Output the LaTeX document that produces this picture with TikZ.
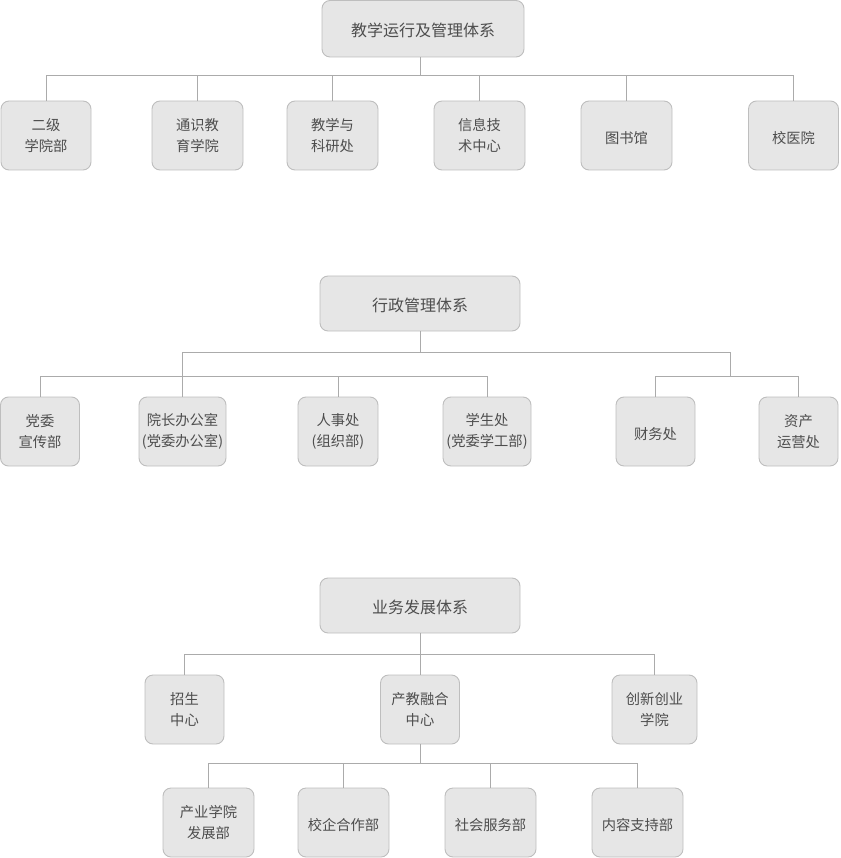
\documentclass[tikz,border=0pt]{standalone}
\usepackage{fontspec}
\setmainfont{Noto Sans CJK SC}
\definecolor{boxfill}{HTML}{E6E6E6}
\definecolor{boxline}{HTML}{BEBEBE}
\definecolor{txtcol}{HTML}{4D4D4D}
\definecolor{wirecol}{HTML}{ABABAB}
\tikzset{
  box/.style={draw=boxline, fill=boxfill, rounded corners=8pt, line width=0.9pt,
    text=txtcol, align=center, inner sep=0pt, minimum height=69pt,
    font=\fontsize{14.3}{20.5}\selectfont,
    execute at begin node={\rule{0pt}{17.5pt}}},
  rootbox/.style={box, minimum height=55pt, font=\fontsize{16}{20}\selectfont,
    execute at begin node={}},
  wire/.style={draw=wirecol, line width=1pt},
}
\begin{document}
\begin{tikzpicture}[x=1pt,y=-1pt]
\useasboundingbox (0,0) rectangle (840,858);
% ---------- top ----------
\node[rootbox, minimum width=202pt, minimum height=56.5pt] (t0) at (423,28.75) {教学运行及管理体系};
\node[box, minimum width=90pt] (t1) at (46,135.5) {二级\\学院部};
\node[box, minimum width=91pt] (t2) at (197.5,135.5) {通识教\\育学院};
\node[box, minimum width=91pt] (t3) at (332.5,135.5) {教学与\\科研处};
\node[box, minimum width=91pt] (t4) at (479.5,135.5) {信息技\\术中心};
\node[box, minimum width=91pt] (t5) at (626.5,135.5) {图书馆};
\node[box, minimum width=90pt] (t6) at (793.5,135.5) {校医院};
\coordinate (b1) at (420,76);
\draw[wire] (t0.south -| b1) -- (b1);
\draw[wire] (t1.north) -- (t1.north |- b1) -- (t6.north |- b1) -- (t6.north);
\foreach \n in {t2,t3,t4,t5}{\draw[wire] (\n.north) -- (\n.north |- b1);}
% ---------- middle ----------
\node[rootbox, minimum width=200pt] (m0) at (420,303.5) {行政管理体系};
\node[box, minimum width=79pt] (m1) at (40,431.5) {党委\\宣传部};
\node[box, minimum width=87pt] (m2) at (182.5,431.5) {院长办公室\\(党委办公室)};
\node[box, minimum width=80pt] (m3) at (338,431.5) {人事处\\(组织部)};
\node[box, minimum width=88pt] (m4) at (487,431.5) {学生处\\(党委学工部)};
\node[box, minimum width=79pt] (m5) at (655.5,431.5) {财务处};
\node[box, minimum width=79pt] (m6) at (798.5,431.5) {资产\\运营处};
\coordinate (b2) at (420,352);
\coordinate (b2r) at (730,352);
\coordinate (b3r) at (730,376);
\coordinate (b3) at (183,376);
\draw[wire] (m0.south) -- (b2);
\draw[wire] (m2.north) -- (m2.north |- b2) -- (b2r) -- (b3r);
\draw[wire] (m1.north) -- (m1.north |- b3) -- (m4.north |- b3) -- (m4.north);
\draw[wire] (m3.north) -- (m3.north |- b3);
\draw[wire] (m5.north) -- (m5.north |- b3r) -- (m6.north |- b3r) -- (m6.north);
% ---------- bottom ----------
\node[rootbox, minimum width=200pt] (n0) at (420,605.5) {业务发展体系};
\node[box, minimum width=79pt] (n1) at (184.5,709.5) {招生\\中心};
\node[box, minimum width=79pt] (n2) at (420,709.5) {产教融合\\中心};
\node[box, minimum width=85pt] (n3) at (654.5,709.5) {创新创业\\学院};
\coordinate (b4) at (420,654.5);
\draw[wire] (n0.south) -- (n2.north);
\draw[wire] (n1.north) -- (n1.north |- b4) -- (n3.north |- b4) -- (n3.north);
\node[box, minimum width=91pt] (p1) at (208.5,822.5) {产业学院\\发展部};
\node[box, minimum width=91pt] (p2) at (343.5,822.5) {校企合作部};
\node[box, minimum width=91pt] (p3) at (490.5,822.5) {社会服务部};
\node[box, minimum width=91pt] (p4) at (637.5,822.5) {内容支持部};
\coordinate (b5) at (420,763.5);
\draw[wire] (n2.south) -- (b5);
\draw[wire] (p1.north) -- (p1.north |- b5) -- (p4.north |- b5) -- (p4.north);
\foreach \n in {p2,p3}{\draw[wire] (\n.north) -- (\n.north |- b5);}
\end{tikzpicture}
\end{document}
